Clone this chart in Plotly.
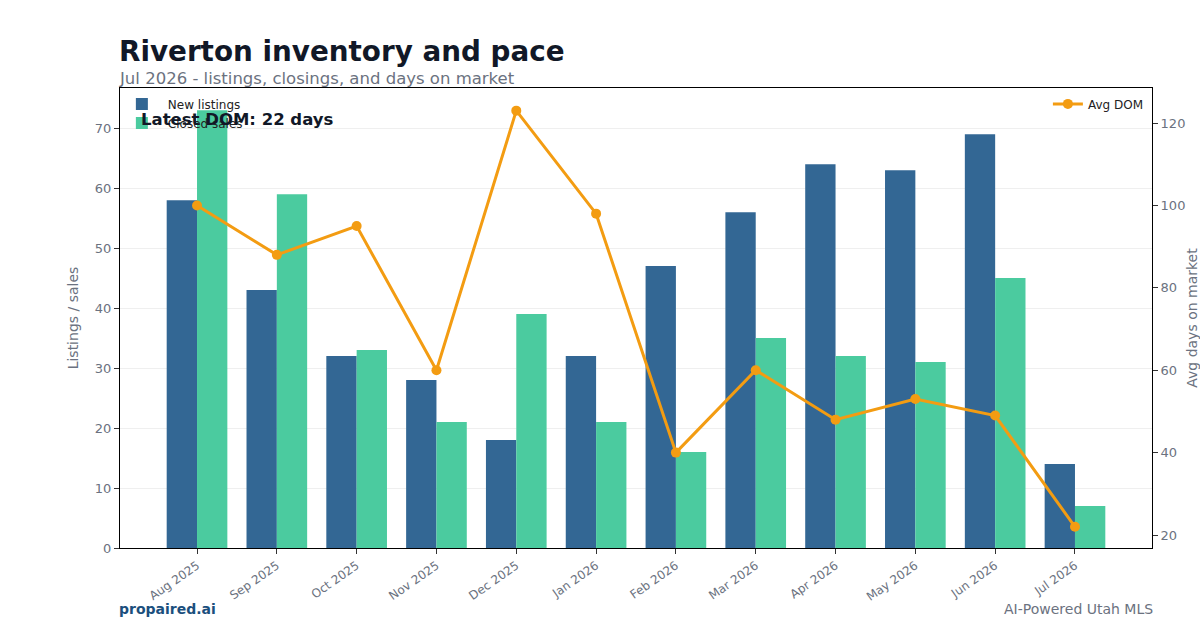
import plotly.graph_objects as go

months = ["Aug 2025", "Sep 2025", "Oct 2025", "Nov 2025", "Dec 2025", "Jan 2026",
          "Feb 2026", "Mar 2026", "Apr 2026", "May 2026", "Jun 2026", "Jul 2026"]
new_listings = [58, 43, 32, 28, 18, 32, 47, 56, 64, 63, 69, 14]
closed_sales = [73, 59, 33, 21, 39, 21, 16, 35, 32, 31, 45, 7]
avg_dom = [100, 88, 95, 60, 123, 98, 40, 60, 48, 53, 49, 22]

BLUE = "#336794"
GREEN = "#4BCB9F"
ORANGE = "#F39C12"
GRAY = "#6b7280"
DARK = "#111827"

x = list(range(len(months)))

fig = go.Figure()
fig.add_trace(go.Bar(x=x, y=new_listings, name="New listings", marker_color=BLUE,
                     marker_line_width=0, legend="legend"))
fig.add_trace(go.Bar(x=x, y=closed_sales, name="Closed sales", marker_color=GREEN,
                     marker_line_width=0, legend="legend"))
fig.add_trace(go.Scatter(x=x, y=avg_dom, name="Avg DOM", mode="lines+markers",
                         line=dict(color=ORANGE, width=3), marker=dict(size=10, color=ORANGE),
                         yaxis="y2", legend="legend2"))

fig.update_layout(
    width=1200, height=630,
    margin=dict(l=120, r=48, t=88, b=82, autoexpand=False),
    paper_bgcolor="white", plot_bgcolor="white",
    font=dict(family="DejaVu Sans", color=GRAY, size=13),
    barmode="group", bargap=0.24, bargroupgap=0,
    showlegend=True,
    xaxis=dict(range=[-0.965, 11.965], tickmode="array", tickvals=x, ticktext=months,
               tickangle=-35, ticks="outside", ticklen=5, tickcolor="#333",
               showline=True, linecolor="black", linewidth=1.2, mirror=True,
               showgrid=False, tickfont=dict(size=12, color=GRAY), automargin=False),
    yaxis=dict(range=[0, 76.7], tickvals=[0, 10, 20, 30, 40, 50, 60, 70],
               ticks="outside", ticklen=5, tickcolor="#333",
               showline=True, linecolor="black", linewidth=1.2, mirror=True,
               showgrid=True, gridcolor="rgba(220,220,220,0.45)", gridwidth=1,
               zeroline=False, automargin=False,
               title=dict(text="Listings / sales", font=dict(size=14, color=GRAY), standoff=12),
               tickfont=dict(size=13, color=GRAY)),
    yaxis2=dict(overlaying="y", side="right", range=[16.85, 128.5],
                tickvals=[20, 40, 60, 80, 100, 120], ticks="outside", ticklen=5, tickcolor="#333",
                showgrid=False, zeroline=False, showline=False, automargin=False,
                title=dict(text="Avg days on market", font=dict(size=14, color=GRAY), standoff=17),
                tickfont=dict(size=13, color=GRAY)),
    legend=dict(x=-0.004, y=0.997, xanchor="left", yanchor="top",
                bgcolor="rgba(255,255,255,0)", font=dict(size=12, color="#222"),
                tracegroupgap=3, itemsizing="constant", itemwidth=42),
    legend2=dict(x=0.997, y=0.997, xanchor="right", yanchor="top",
                 bgcolor="rgba(255,255,255,0)", font=dict(size=12, color="#222")),
)

fig.add_annotation(text="<b>Riverton inventory and pace</b>", xref="paper", yref="paper",
                   x=0, y=1.0, xanchor="left", yanchor="bottom", yshift=18, xshift=-3, showarrow=False,
                   font=dict(size=27.8, color=DARK))
fig.add_annotation(text="Jul 2026 - listings, closings, and days on market", xref="paper", yref="paper",
                   x=0, y=1.0, xanchor="left", yanchor="bottom", yshift=-2, xshift=-3, showarrow=False,
                   font=dict(size=16.5, color=GRAY))
fig.add_annotation(text="<b>Latest DOM: 22 days</b>", xref="paper", yref="paper",
                   x=0.018, y=0.935, xanchor="left", yanchor="middle", yshift=-2, showarrow=False,
                   font=dict(size=16.5, color=DARK))
fig.add_annotation(text="<b>propaired.ai</b>", xref="paper", yref="paper",
                   x=0, y=0, yshift=-61, xshift=-3, xanchor="left", yanchor="middle", showarrow=False,
                   font=dict(size=14, color="#1b4f7d"))
fig.add_annotation(text="AI-Powered Utah MLS", xref="paper", yref="paper",
                   x=1, y=0, yshift=-61, xshift=3, xanchor="right", yanchor="middle", showarrow=False,
                   font=dict(size=14, color=GRAY))

fig.write_html("out.html")
